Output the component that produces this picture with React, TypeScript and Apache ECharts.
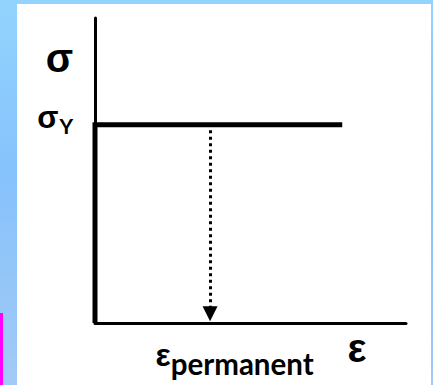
import React, { useEffect, useRef } from "react";
import * as echarts from "echarts";

// Elastic–perfectly-plastic stress–strain curve (strain ε, stress σ)
const strainPath = [0, 0, 79.5];
const stressPath = [0, 65, 65];
// Unloading (permanent strain) arrow
const unloadStrain = [37, 37];
const unloadStress = [63.2, 3.0];
// Tick labels
const yieldStress = 65;
const yieldLabel = "σ";
const yieldSub = "Y";
const permStrain = 37;
const permLabel = "ε";
const permSub = "permanent";
const xName = "ε";
const yName = "σ";

export default function App() {
  const ref = useRef<HTMLDivElement>(null);
  useEffect(() => {
    document.body.style.margin = "0";
    if (!ref.current) return;
    const chart = echarts.init(ref.current, null, { renderer: "svg" });
    const data = strainPath.map((x, i) => [x, stressPath[i]]);
    chart.setOption({
      animation: false,
      grid: { left: 95, right: 27, top: 18, bottom: 62, containLabel: false, outerBoundsMode: "none" },
      xAxis: {
        type: "value",
        min: 0,
        max: 100,
        name: `{n|${xName}}`,
        nameLocation: "end",
        nameGap: -49,
        nameTextStyle: {
          align: "center",
          verticalAlign: "middle",
          rich: {
            n: {
              fontFamily: "Liberation Sans",
              fontWeight: "bold",
              fontSize: 40,
              color: "#000",
              verticalAlign: "bottom",
              padding: [50, 0, 0, 0],
            },
          },
        },
        axisLine: { show: true, onZero: false, lineStyle: { color: "#000", width: 3 } },
        axisTick: { show: false },
        splitLine: { show: false },
        axisLabel: {
          customValues: [permStrain],
          margin: 9,
          padding: [0, 0, 0, 49],
          formatter: () => `{e|${permLabel}}{sub|${permSub}}`,
          rich: {
            e: { fontFamily: "Liberation Sans", fontWeight: "bold", fontSize: 32, color: "#000", verticalAlign: "middle" },
            sub: { fontFamily: "Lato", fontWeight: "bold", fontSize: 29.5, color: "#000", verticalAlign: "bottom", padding: [16, 0, 0, 0] },
          },
        },
      },
      yAxis: {
        type: "value",
        min: 0,
        max: 100,
        name: yName,
        nameLocation: "end",
        nameGap: -40,
        nameTextStyle: {
          fontFamily: "Liberation Sans",
          fontWeight: "bold",
          fontSize: 40,
          color: "#000",
          align: "right",
          verticalAlign: "middle",
          padding: [0, 22, 0, 0],
        },
        axisLine: { show: true, onZero: false, lineStyle: { color: "#000", width: 3 } },
        axisTick: { show: false },
        splitLine: { show: false },
        axisLabel: {
          customValues: [yieldStress],
          margin: 22,
          padding: [0, 0, 14, 0],
          formatter: () => `{s|${yieldLabel}}{sub|${yieldSub}}`,
          rich: {
            s: { fontFamily: "Liberation Sans", fontWeight: "bold", fontSize: 31, color: "#000", verticalAlign: "middle" },
            sub: { fontFamily: "Lato", fontWeight: "bold", fontSize: 21, color: "#000", verticalAlign: "bottom", padding: [15, 0, 0, 1] },
          },
        },
      },
      series: [
        {
          type: "line",
          data,
          symbol: "none",
          lineStyle: { color: "#000", width: 5, join: "miter", cap: "butt" },
          z: 3,
          markLine: {
            silent: true,
            symbol: ["none", "triangle"],
            symbolSize: [15, 15],
            label: { show: false },
            lineStyle: { color: "#000", width: 3, type: [3, 3.5] },
            data: [
              [
                { coord: [unloadStrain[0], unloadStress[0]] },
                { coord: [unloadStrain[1], unloadStress[1]] },
              ],
            ],
          },
        },
      ],
    });
    return () => chart.dispose();
  }, []);

  return (
    <div
      style={{
        position: "relative",
        width: 433,
        height: 385,
        overflow: "hidden",
        background: "linear-gradient(180deg, #92d4fe 0%, #86c2fb 45%, #a2caf5 100%)",
      }}
    >
      <div style={{ position: "absolute", left: 17, top: 4, width: 414, height: 381, background: "#fff" }} />
      <div style={{ position: "absolute", left: 0, top: 313, width: 3, height: 72, background: "#ff00ff" }} />
      <div ref={ref} style={{ position: "absolute", left: 0, top: 0, width: 433, height: 385 }} />
    </div>
  );
}
